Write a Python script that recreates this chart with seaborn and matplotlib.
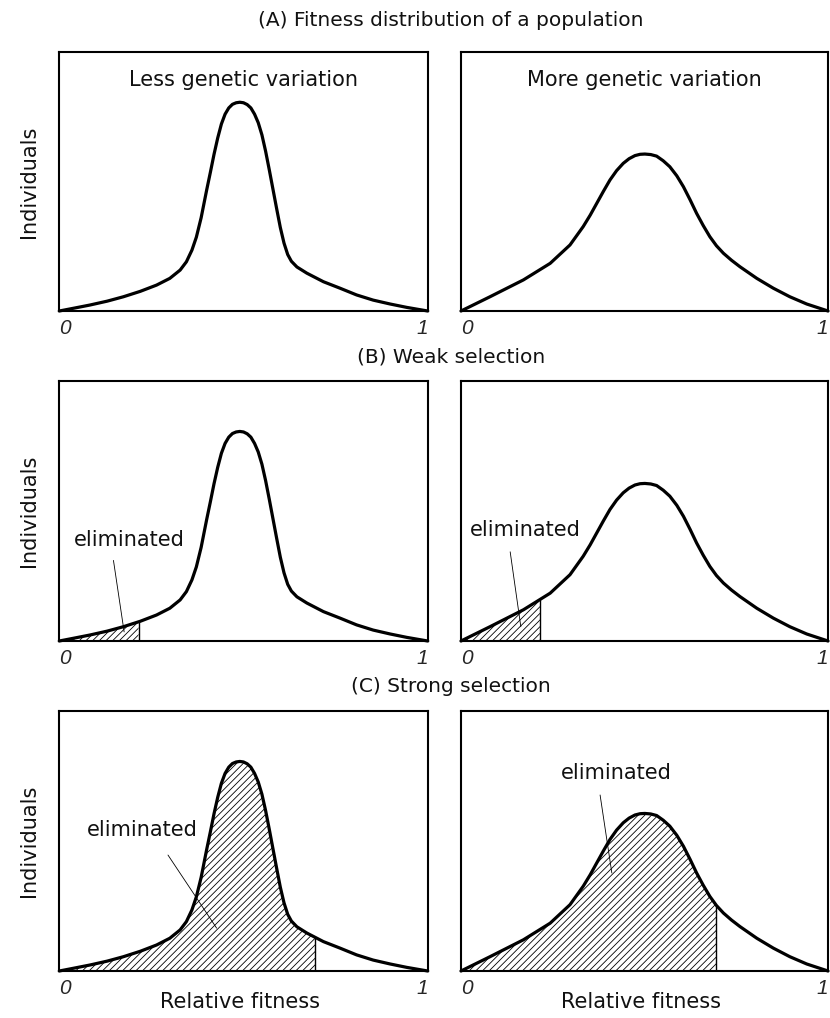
import numpy as np
import pandas as pd
import matplotlib
matplotlib.use("Agg")
import matplotlib.pyplot as plt
import seaborn as sns

# ---- data ----
fitness_less = [0.0, 0.04, 0.083, 0.13, 0.174, 0.22, 0.264, 0.30, 0.328, 0.345, 0.36, 0.372,
                0.385, 0.40, 0.41, 0.42, 0.43, 0.44, 0.45, 0.46, 0.47, 0.48, 0.49, 0.50, 0.51,
                0.52, 0.53, 0.54, 0.55, 0.56, 0.57, 0.58, 0.59, 0.60, 0.61, 0.62, 0.63, 0.645,
                0.672, 0.717, 0.762, 0.807, 0.852, 0.898, 0.943, 1.0]
individuals_less = [0.0, 0.011, 0.023, 0.038, 0.055, 0.076, 0.100, 0.126, 0.158, 0.190, 0.235,
                    0.285, 0.360, 0.467, 0.535, 0.605, 0.668, 0.722, 0.760, 0.784, 0.798, 0.804,
                    0.806, 0.804, 0.797, 0.784, 0.760, 0.727, 0.680, 0.617, 0.545, 0.470, 0.395,
                    0.322, 0.262, 0.218, 0.192, 0.170, 0.146, 0.113, 0.088, 0.062, 0.042, 0.027,
                    0.014, 0.0]
fitness_more = [0.0, 0.079, 0.170, 0.243, 0.297, 0.333, 0.352, 0.370, 0.388, 0.406, 0.424,
                0.442, 0.458, 0.474, 0.488, 0.501, 0.517, 0.533, 0.551, 0.569, 0.588, 0.606,
                0.624, 0.642, 0.660, 0.678, 0.696, 0.715, 0.737, 0.760, 0.806, 0.851, 0.896,
                0.942, 1.0]
individuals_more = [0.0, 0.055, 0.120, 0.184, 0.255, 0.326, 0.370, 0.416, 0.462, 0.506, 0.542,
                    0.570, 0.588, 0.600, 0.605, 0.606, 0.604, 0.598, 0.580, 0.557, 0.522, 0.480,
                    0.430, 0.377, 0.330, 0.287, 0.252, 0.223, 0.196, 0.171, 0.126, 0.088, 0.055,
                    0.027, 0.0]

row_titles = ["(A) Fitness distribution of a population", "(B) Weak selection", "(C) Strong selection"]
column_titles = ["Less genetic variation", "More genetic variation"]
selection_cutoffs = [None, 0.215, 0.695]
tick_values = [0, 1]
tick_labels = ["0", "1"]
annotation_text = "eliminated"

# label placement (axes data coords): (text x, text y, line start, line end)
annot_layout = {
    (1, 0): ((0.19, 0.39), (0.147, 0.31), (0.176, 0.035)),
    (1, 1): ((0.175, 0.427), (0.134, 0.343), (0.163, 0.055)),
    (2, 0): ((0.225, 0.542), (0.295, 0.446), (0.427, 0.165)),
    (2, 1): ((0.423, 0.762), (0.379, 0.677), (0.411, 0.377)),
}

sns.set_theme(style="white")
plt.rcParams['font.family'] = ['DejaVu Sans']
plt.rcParams['hatch.linewidth'] = 0.6
plt.rcParams['hatch.color'] = 'black'
TXT = '#111111'

fig = plt.figure(figsize=(8.3, 10.18), dpi=100)

lefts = [59.3 / 830, 461 / 830]
widths = [368.4 / 830, 367 / 830]
bottoms_px = [311, 641, 971]
heights_px = [259, 260, 260]
row_title_y = [20, 357, 686]

curves = [(np.array(fitness_less), np.array(individuals_less)),
          (np.array(fitness_more), np.array(individuals_more))]

for r in range(3):
    fig.text(451 / 830, 1 - row_title_y[r] / 1018, row_titles[r], ha='center', va='center',
             fontsize=14.5, color=TXT)
    for c in range(2):
        ax = fig.add_axes([lefts[c], 1 - bottoms_px[r] / 1018, widths[c], heights_px[r] / 1018])
        xs, ys = curves[c]
        cut = selection_cutoffs[r]
        if cut is not None:
            yc = np.interp(cut, xs, ys)
            mask = xs <= cut
            fx = np.r_[xs[mask], cut]
            fy = np.r_[ys[mask], yc]
            ax.fill_between(fx, 0, fy, facecolor='none', edgecolor='black', hatch='/////', linewidth=0)
            ax.plot([cut, cut], [0, yc], color='black', lw=1.0)
        df = pd.DataFrame({"fitness": xs, "individuals": ys})
        sns.lineplot(data=df, x="fitness", y="individuals", ax=ax, color='black', lw=2.3,
                     sort=False, estimator=None, clip_on=False)
        ax.set_xlim(0, 1)
        ax.set_ylim(0, 1)
        ax.set_yticks([])
        ax.set_xticks(tick_values, tick_labels)
        ax.tick_params(axis='x', length=0, pad=6, labelsize=15)
        tl = ax.get_xticklabels()
        for t in tl:
            t.set_style('italic')
            t.set_family('Liberation Sans')
        tl[0].set_ha('left')
        tl[1].set_ha('right')
        for s in ax.spines.values():
            s.set_color('black')
            s.set_linewidth(1.5)
            s.set_visible(True)
        ax.set_xlabel("")
        ax.set_ylabel("")
        if c == 0:
            ax.set_ylabel("Individuals", fontsize=15, color=TXT)
            ax.yaxis.set_label_coords(-0.055, 0.5)
        if r == 0:
            ax.text(0.5, 0.892, column_titles[c], transform=ax.transAxes, ha='center', va='center',
                    fontsize=15, color=TXT)
        if r == 2:
            ax.set_xlabel("Relative fitness", fontsize=15, color=TXT)
            ax.xaxis.set_label_coords(0.49, -0.08)
        if (r, c) in annot_layout:
            (tx, ty), (lx0, ly0), (lx1, ly1) = annot_layout[(r, c)]
            ax.text(tx, ty, annotation_text, ha='center', va='center', fontsize=15, color=TXT)
            ax.plot([lx0, lx1], [ly0, ly1], color='black', lw=0.6)

fig.savefig("out.png", dpi=100)
